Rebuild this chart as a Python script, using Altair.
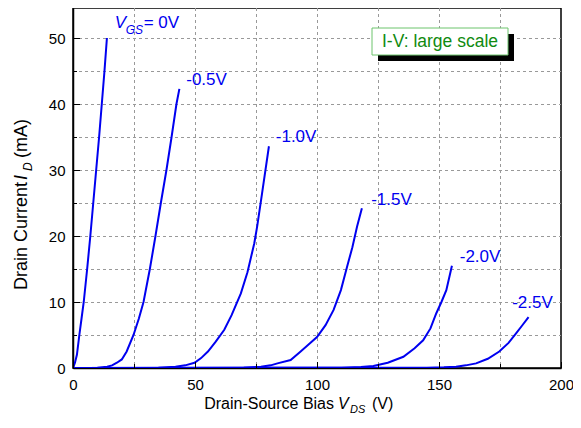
import altair as alt
import pandas as pd

# ---- data ----
curve_names = ["0V", "-0.5V", "-1.0V", "-1.5V", "-2.0V", "-2.5V"]

vds_0 = [0, 0.8, 1.6, 2.6, 3.5, 4.4, 5.8, 7.1, 8.3, 9.5, 10.7, 11.8, 12.9, 13.9]
id_0 = [0, 0.8, 2.0, 5.0, 7.5, 10, 15, 20, 25, 30, 35, 40, 45, 50]

vds_05 = [0, 10, 14, 16, 18, 20, 22, 24.8, 27, 28.9, 31.5, 33.8, 36, 38.3, 40.4, 42.4, 43.6]
id_05 = [0, 0.05, 0.2, 0.4, 0.8, 1.3, 2.5, 5.0, 7.5, 10, 15, 20, 25, 30, 35, 40, 42.3]

vds_10 = [0, 35, 42, 46, 49.8, 52.5, 55.3, 58.5, 62, 65, 68.8, 71.5, 74.3, 75.5, 77.5, 80.3]
id_10 = [0, 0.05, 0.2, 0.4, 0.8, 1.5, 2.5, 4.0, 5.8, 8.0, 11.3, 14.5, 18.9, 21.5, 26.5, 33.6]

vds_15 = [0, 70, 77, 81, 83.8, 89.2, 93.3, 97, 100, 103.5, 106.8, 109.8, 112.3, 114.5, 116.4, 118.4]
id_15 = [0, 0.05, 0.2, 0.4, 0.7, 1.2, 2.5, 3.7, 4.7, 6.5, 8.8, 11.8, 15.3, 18.3, 21.4, 24.2]

vds_20 = [0, 110, 118, 123.1, 129, 135.4, 140, 143.5, 146.5, 148.9, 151, 153, 155.3]
id_20 = [0, 0.05, 0.15, 0.3, 0.8, 1.7, 3.0, 4.2, 6.0, 8.3, 10, 11.8, 15.5]

vds_25 = [0, 145, 152, 157, 161, 165.2, 170, 174.7, 178.5, 181.5, 184, 186.7]
id_25 = [0, 0.05, 0.1, 0.2, 0.4, 0.7, 1.4, 2.5, 3.8, 5.2, 6.4, 7.7]

label_text = ["-0.5V", "-1.0V", "-1.5V", "-2.0V", "-2.5V"]
label_x = [46.4, 83.1, 122.2, 158.5, 180.0]
label_y = [42.9, 34.2, 24.7, 16.1, 9.1]
vgs0_x = [17.1]
vgs0_y = [51.5]

x_major = [0, 50, 100, 150, 200]
x_minor = [25, 75, 125, 175]
y_major = [0, 10, 20, 30, 40, 50]
y_minor = [5, 15, 25, 35, 45]
x_grid = [25, 50, 75, 100, 125, 150, 175]
y_grid = [5, 10, 15, 20, 25, 30, 35, 40, 45, 50]

# ---- build tables ----
xs = [vds_0, vds_05, vds_10, vds_15, vds_20, vds_25]
ys = [id_0, id_05, id_10, id_15, id_20, id_25]
rows = []
for name, xv, yv in zip(curve_names, xs, ys):
    for i, (a, b) in enumerate(zip(xv, yv)):
        rows.append({"curve": name, "x": a, "y": b, "order": i})
curves = pd.DataFrame(rows)

labels = pd.DataFrame({"t": label_text, "x": label_x, "y": label_y})
vgs0 = pd.DataFrame({"x": vgs0_x, "y": vgs0_y})

FONT = "Liberation Sans"
BLUE = "#0000f0"
GRID = "#999999"
W, H = 488, 360
Y_TOP = H / 6.6  # 6.6 px per mA, so grid lines land on whole pixels

xscale = alt.Scale(domain=[0, 200], nice=False, zero=False)
yscale = alt.Scale(domain=[0, Y_TOP], nice=False, zero=False)

axis_common = dict(
    title=None, grid=False,
    tickSize=0, ticks=False, domainColor="black", domainWidth=1.5,
    labelFont=FONT, labelFontSize=15, labelColor="black",
    labelFlush=False, labelOverlap=False,
)
xaxis = alt.Axis(values=x_major, labelPadding=9, **axis_common)
yaxis = alt.Axis(values=y_major, labelPadding=8, **axis_common)

X = alt.X("x:Q", scale=xscale, axis=xaxis)
Y = alt.Y("y:Q", scale=yscale, axis=yaxis)

# dashed grid
xgrid = alt.Chart(pd.DataFrame({"x": x_grid})).mark_rule(
    stroke=GRID, strokeWidth=1, strokeDash=[3, 3], xOffset=0.5
).encode(x=X, y=alt.value(0), y2=alt.value(H))
ygrid = alt.Chart(pd.DataFrame({"y": y_grid})).mark_rule(
    stroke=GRID, strokeWidth=1, strokeDash=[3, 3], yOffset=0.5
).encode(y=Y, x=alt.value(0), x2=alt.value(W))

lines = alt.Chart(curves).mark_line(color=BLUE, strokeWidth=2, clip=True).encode(
    x=X, y=Y, detail="curve:N", order="order:Q",
)

def xticks(vals, length):
    return alt.Chart(pd.DataFrame({"x": vals})).mark_rule(
        stroke="black", strokeWidth=1, xOffset=0.5
    ).encode(x=X, y=alt.value(H), y2=alt.value(H - length))

def yticks(vals, length):
    return alt.Chart(pd.DataFrame({"y": vals})).mark_rule(
        stroke="black", strokeWidth=1, yOffset=0.5
    ).encode(y=Y, x=alt.value(0), x2=alt.value(length))

curve_labels = alt.Chart(labels).mark_text(
    color=BLUE, font=FONT, fontSize=17, align="left", baseline="alphabetic"
).encode(x=X, y=Y, text="t:N")

def vgs_piece(text, dx, dy, size, style):
    return alt.Chart(vgs0).mark_text(
        text=text, color=BLUE, font=FONT, fontSize=size, fontStyle=style,
        align="left", baseline="alphabetic", dx=dx, dy=dy
    ).encode(x=X, y=Y)

one = pd.DataFrame({"a": [0]})

shadow = alt.Chart(one).mark_rect(color="black").encode(
    x=alt.value(305), x2=alt.value(441), y=alt.value(26), y2=alt.value(53))
box = alt.Chart(one).mark_rect(fill="white", stroke="#6cc46c", strokeWidth=1).encode(
    x=alt.value(299), x2=alt.value(435), y=alt.value(20), y2=alt.value(47))
box_text = alt.Chart(one).mark_text(
    text="I-V: large scale", color="#108a10", font=FONT, fontSize=17.5,
    align="center", baseline="alphabetic"
).encode(x=alt.value(367), y=alt.value(39))

def free_text(text, x, y, size, style="normal", align="left", angle=0):
    return alt.Chart(one).mark_text(
        text=text, color="black", font=FONT, fontSize=size, fontStyle=style,
        align=align, baseline="alphabetic", angle=angle
    ).encode(x=alt.value(x), y=alt.value(y))

xtitle = [
    free_text("Drain-Source Bias", 261, 401, 16, align="right"),
    free_text("V", 265, 401, 16, style="italic"),
    free_text("DS", 277, 405, 11, style="italic"),
    free_text("(V)", 299, 401, 16),
]
ytitle = [
    free_text("Drain Current", -46, 282, 18, angle=270),
    free_text("I", -46, 172, 18, style="italic", angle=270),
    free_text("D", -41, 163, 12, style="italic", angle=270),
    free_text("(mA)", -46, 150, 18, angle=270),
]

chart = alt.layer(
    xgrid, ygrid,
    lines,
    xticks(x_major, 6), xticks(x_minor, 4),
    yticks(y_major, 7), yticks(y_minor, 4),
    curve_labels,
    vgs_piece("V", 0, 0, 17, "italic"),
    vgs_piece("GS", 11, 6, 12, "italic"),
    vgs_piece("= 0V", 29, 0, 17, "normal"),
    shadow, box, box_text,
    *xtitle, *ytitle,
).properties(
    width=W, height=H,
    autosize=alt.AutoSizeParams(type="none"),
    padding={"left": 65, "top": 0, "right": 12, "bottom": 46},
).configure_view(
    stroke="black", strokeWidth=1.5
)

chart.save("out.html", embed_options={"renderer": "svg", "actions": False})
